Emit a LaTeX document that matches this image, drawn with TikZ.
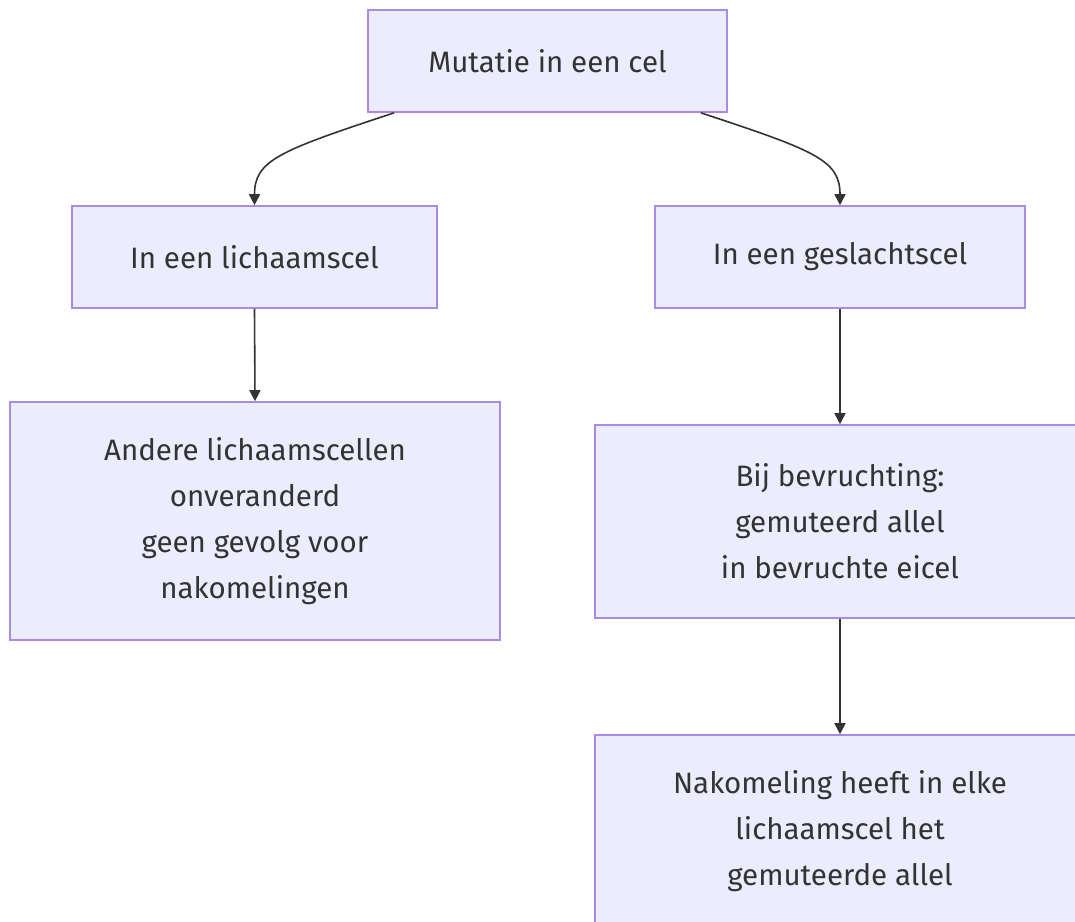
\documentclass[tikz,border=0pt]{standalone}
\usepackage{fontspec}
\setmainfont{Fira Sans}
\usetikzlibrary{arrows.meta,calc}
\definecolor{boxfill}{HTML}{ECECFF}
\definecolor{boxline}{HTML}{A98BE4}
\definecolor{ink}{HTML}{333333}
\begin{document}
\begin{tikzpicture}[x=1pt,y=-1pt,
  box/.style={draw=boxline,fill=boxfill,line width=1.6pt,rectangle,inner sep=0pt,
    text=ink,align=center,font=\fontsize{29.5}{46}\selectfont},
  conn/.style={draw=ink,line width=1.6pt,-{Triangle[length=11pt,width=11pt]}}]
\useasboundingbox (0,0) rectangle (1075,921);
\node[box,minimum width=359,minimum height=102] (a) at (547.5,61) {Mutatie in een cel};
\node[box,minimum width=365,minimum height=102] (b) at (254.5,257) {In een lichaamscel};
\node[box,minimum width=370,minimum height=102] (c) at (840,257) {In een geslachtscel};
\node[box,minimum width=490,minimum height=238] (d) at (255,521) {Andere lichaamscellen\\onveranderd\\geen gevolg voor\\nakomelingen};
\node[box,minimum width=490,minimum height=193] (e) at (840,521.5) {Bij bevruchting:\\gemuteerd allel\\in bevruchte eicel};
\node[box,minimum width=490,minimum height=193] (f) at (840,831.5) {Nakomeling heeft in elke\\lichaamscel het\\gemuteerde allel};
\draw[conn] ([xshift=27pt]a.south west) .. controls +(-115,38) and +(0,-45) .. (b.north);
\draw[conn] ([xshift=-27pt]a.south east) .. controls +(115,38) and +(0,-45) .. (c.north);
\draw[conn] (b.south) -- (d.north);
\draw[conn] (c.south) -- (e.north);
\draw[conn] (e.south) -- (f.north);
\end{tikzpicture}
\end{document}
